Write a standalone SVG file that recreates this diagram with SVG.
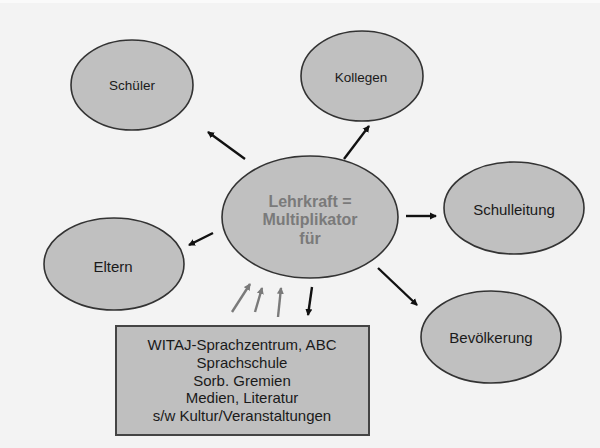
<svg xmlns="http://www.w3.org/2000/svg" width="600" height="448" viewBox="0 0 600 448">
<defs>
<style>
.node{fill:#c0c0c0;stroke:#333;stroke-width:1.6}
.lbl{font-family:"Liberation Sans",Arial,sans-serif;fill:#1a1a1a;text-anchor:middle}
.ctr{font-family:"Liberation Sans",Arial,sans-serif;fill:#7a7a7a;font-weight:bold;font-size:16px;text-anchor:middle}
.c{stroke:#111;stroke-width:2.4;fill:none;marker-end:url(#ah)}
.g{stroke:#7a7a7a;stroke-width:2.4;fill:none;marker-end:url(#ahg)}
</style>
<marker id="ah" markerWidth="8" markerHeight="8" refX="6" refY="4" orient="auto" markerUnits="userSpaceOnUse"><path d="M0,0.5 L7,4 L0,7.5 Z" fill="#111"/></marker>
<marker id="ahg" markerWidth="8" markerHeight="8" refX="6" refY="4" orient="auto" markerUnits="userSpaceOnUse"><path d="M0,0.5 L7,4 L0,7.5 Z" fill="#7a7a7a"/></marker>
</defs>
<rect x="0" y="0" width="600" height="448" fill="#f3f3f3"/>
<rect x="0" y="0" width="600" height="3" fill="#fafafa"/>
<g id="connectors">
<line class="c" x1="245" y1="159" x2="208" y2="132"/>
<line class="c" x1="344" y1="159" x2="369" y2="126"/>
<line class="c" x1="406" y1="216" x2="436" y2="216"/>
<line class="c" x1="378" y1="268" x2="417" y2="305"/>
<line class="c" x1="213" y1="233" x2="189" y2="245"/>
<line class="g" x1="232" y1="312" x2="250" y2="284"/>
<line class="g" x1="255" y1="312" x2="262" y2="288"/>
<line class="g" x1="278" y1="317" x2="281" y2="288"/>
<line class="c" x1="312" y1="287" x2="308" y2="315"/>
</g>
<g id="schueler"><ellipse class="node" cx="132" cy="85" rx="61" ry="45"/><text class="lbl" x="132" y="90" font-size="13.5">Schüler</text></g>
<g id="kollegen"><ellipse class="node" cx="362" cy="76" rx="61" ry="45"/><text class="lbl" x="361" y="82" font-size="13.5">Kollegen</text></g>
<g id="lehrkraft"><ellipse class="node" cx="310" cy="217" rx="88" ry="61"/>
<text class="ctr" x="310" y="207">Lehrkraft =</text>
<text class="ctr" x="310" y="225">Multiplikator</text>
<text class="ctr" x="310" y="244">für</text></g>
<g id="schulleitung"><ellipse class="node" cx="514" cy="208" rx="70" ry="46"/><text class="lbl" x="514" y="215" font-size="15">Schulleitung</text></g>
<g id="bevoelkerung"><ellipse class="node" cx="491" cy="337" rx="70" ry="46"/><text class="lbl" x="491" y="343" font-size="15">Bevölkerung</text></g>
<g id="eltern"><ellipse class="node" cx="114" cy="264" rx="70" ry="46"/><text class="lbl" x="113" y="272" font-size="15">Eltern</text></g>
<g id="quellen"><rect x="116" y="326" width="253" height="109" fill="#bfbfbf" stroke="#444" stroke-width="2"/>
<text class="lbl" font-size="15" x="242" y="350">WITAJ-Sprachzentrum, ABC</text>
<text class="lbl" font-size="15" x="242" y="368">Sprachschule</text>
<text class="lbl" font-size="15" x="242" y="386">Sorb. Gremien</text>
<text class="lbl" font-size="15" x="242" y="403">Medien, Literatur</text>
<text class="lbl" font-size="15" x="242" y="421">s/w Kultur/Veranstaltungen</text></g>
</svg>
